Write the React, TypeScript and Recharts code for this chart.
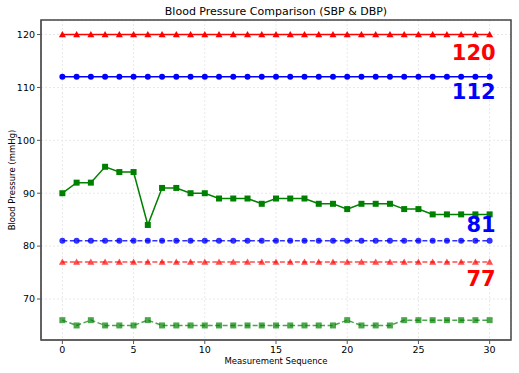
import React from 'react';
import { LineChart, Line, XAxis, YAxis, CartesianGrid, ReferenceArea } from 'recharts';

const sequence = [0, 1, 2, 3, 4, 5, 6, 7, 8, 9, 10, 11, 12, 13, 14, 15, 16, 17, 18, 19, 20, 21, 22, 23, 24, 25, 26, 27, 28, 29, 30];
const sbpMeasured = [90, 92, 92, 95, 94, 94, 84, 91, 91, 90, 90, 89, 89, 89, 88, 89, 89, 89, 88, 88, 87, 88, 88, 88, 87, 87, 86, 86, 86, 86, 86];
const dbpMeasured = [66, 65, 66, 65, 65, 65, 66, 65, 65, 65, 65, 65, 65, 65, 65, 65, 65, 65, 65, 65, 66, 65, 65, 65, 66, 66, 66, 66, 66, 66, 66];
const sbpTarget = 120;
const sbpReference = 112;
const dbpReference = 81;
const dbpTarget = 77;
const xTicks = [0, 5, 10, 15, 20, 25, 30];
const yTicks = [70, 80, 90, 100, 110, 120];

const data = sequence.map((s, i) => ({
  s,
  sbpTarget,
  sbpReference,
  sbp: sbpMeasured[i],
  dbpReference,
  dbpTarget,
  dbp: dbpMeasured[i],
}));

const RED = '#ff0000';
const BLUE = '#0000ff';
const GREEN = '#008000';
const FONT = '"DejaVu Sans", sans-serif';

const triangle = (color: string, opacity = 1) => (p: any) => (
  <path
    key={`t-${p.index}`}
    d={`M${p.cx},${p.cy - 3.5} L${p.cx + 3.5},${p.cy + 2.8} L${p.cx - 3.5},${p.cy + 2.8} Z`}
    fill={color}
    fillOpacity={opacity}
  />
);
const circle = (color: string, opacity = 1) => (p: any) => (
  <circle key={`c-${p.index}`} cx={p.cx} cy={p.cy} r={3} fill={color} fillOpacity={opacity} />
);
const square = (color: string, opacity = 1) => (p: any) => (
  <rect key={`s-${p.index}`} x={p.cx - 3} y={p.cy - 3} width={6} height={6} fill={color} fillOpacity={opacity} />
);

// big value label next to the last point
const endLabel = (color: string, dy: number) => (p: any) => {
  if (p.index !== sequence.length - 1) return null;
  return (
    <text
      key="lbl"
      x={p.x + 6}
      y={p.y + dy}
      textAnchor="end"
      fill={color}
      fontSize={21}
      fontWeight="bold"
      fontFamily={FONT}
    >
      {p.value}
    </text>
  );
};

export default function App() {
  return (
    <div style={{ position: 'absolute', left: 0, top: 0, width: 519, height: 373, background: '#fff' }}>
      <div
        style={{
          position: 'absolute',
          top: 5,
          left: 41,
          width: 470,
          textAlign: 'center',
          fontFamily: FONT,
          fontSize: 11,
          color: '#000',
        }}
      >
        Blood Pressure Comparison (SBP &amp; DBP)
      </div>
      <LineChart width={519} height={373} data={data} margin={{ top: 20, right: 8, left: 11, bottom: 0 }}>
        <CartesianGrid stroke="#e8e8e8" strokeDasharray="2 2" />
        <XAxis
          dataKey="s"
          type="number"
          domain={[-1.5, 31.5]}
          ticks={xTicks}
          height={33}
          tickSize={4}
          tickMargin={2}
          tick={{ fontSize: 9.5, fill: '#000', fontFamily: FONT }}
          stroke="#555"
          label={{ value: 'Measurement Sequence', position: 'insideBottom', offset: 9, fontSize: 8.5, fill: '#000', fontFamily: FONT }}
        />
        <YAxis
          type="number"
          domain={[62.25, 122.75]}
          ticks={yTicks}
          width={30}
          tickSize={4}
          tickMargin={2}
          tick={{ fontSize: 9.5, fill: '#000', fontFamily: FONT }}
          stroke="#555"
          label={{ value: 'Blood Pressure (mmHg)', angle: -90, position: 'insideLeft', offset: 0, dx: 1, fontSize: 8.5, fill: '#000', fontFamily: FONT, style: { textAnchor: 'middle' } }}
        />
        <ReferenceArea x1={-1.5} x2={31.5} y1={62.25} y2={122.75} fill="none" stroke="#444" strokeWidth={1.5} />
        <Line dataKey="sbpTarget" stroke={RED} strokeWidth={1.5} dot={triangle(RED)} label={endLabel(RED, 25)} isAnimationActive={false} />
        <Line dataKey="sbpReference" stroke={BLUE} strokeWidth={1.5} dot={circle(BLUE)} label={endLabel(BLUE, 22)} isAnimationActive={false} />
        <Line dataKey="sbp" stroke={GREEN} strokeWidth={1.5} dot={square(GREEN)} isAnimationActive={false} />
        <Line dataKey="dbpReference" stroke={BLUE} strokeOpacity={0.8} strokeWidth={1.5} strokeDasharray="5 2.5" dot={circle(BLUE, 0.8)} label={endLabel(BLUE, -9)} isAnimationActive={false} />
        <Line dataKey="dbpTarget" stroke={RED} strokeOpacity={0.7} strokeWidth={1.5} strokeDasharray="5 2.5" dot={triangle(RED, 0.7)} label={endLabel(RED, 24)} isAnimationActive={false} />
        <Line dataKey="dbp" stroke={GREEN} strokeOpacity={0.7} strokeWidth={1.5} strokeDasharray="5 2.5" dot={square(GREEN, 0.7)} isAnimationActive={false} />
      </LineChart>
    </div>
  );
}
